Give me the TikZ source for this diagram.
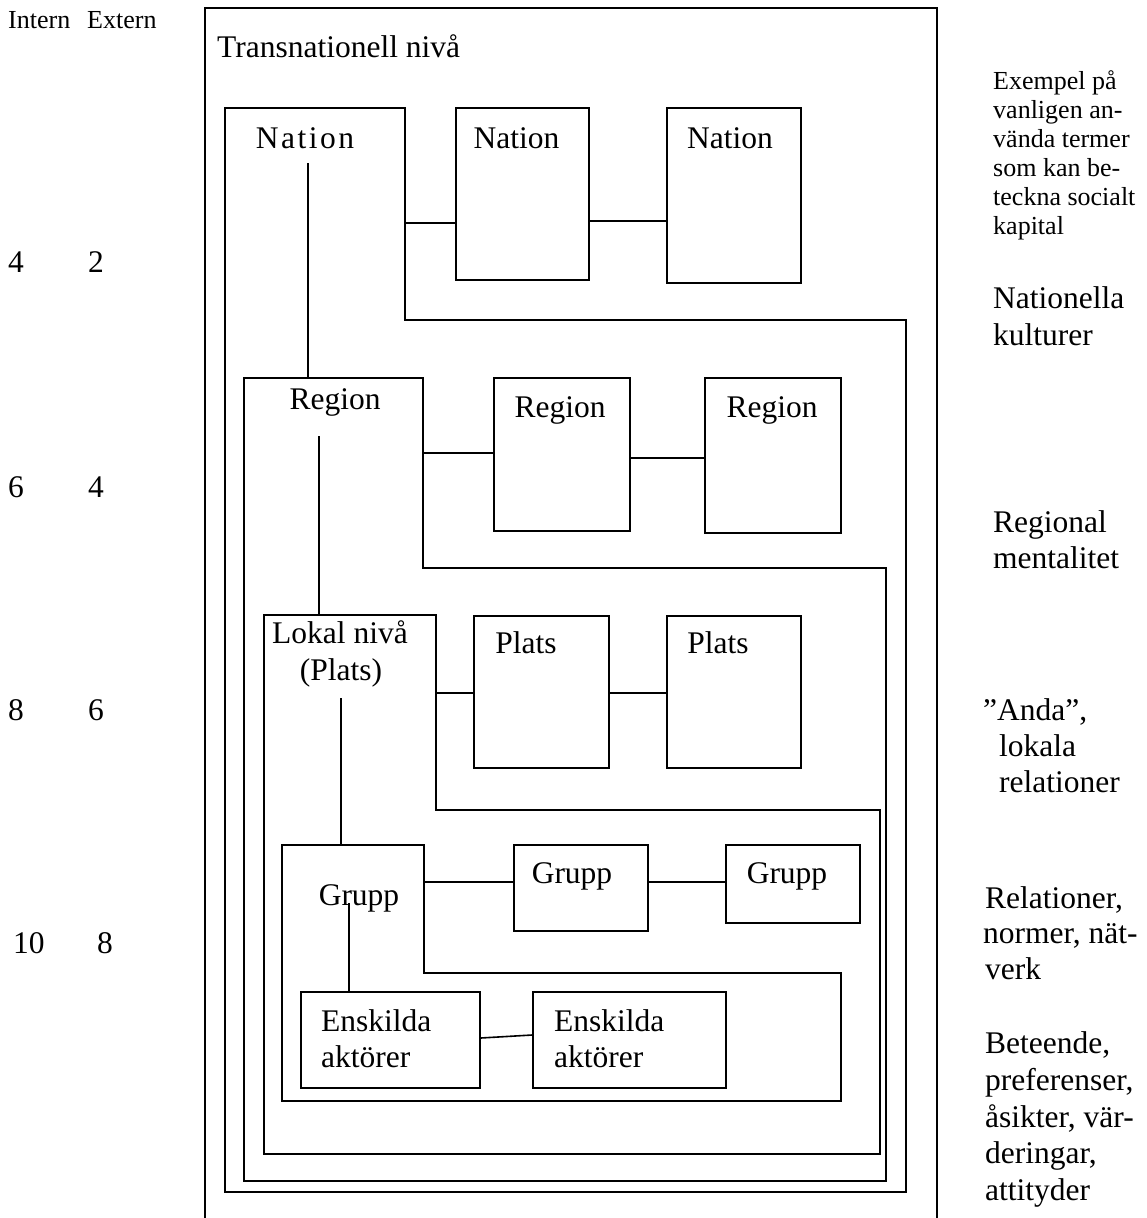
\documentclass[tikz,border=0pt]{standalone}
\usepackage{fontspec}
\setmainfont{Liberation Serif}
\newfontfamily\widefont[LetterSpace=8]{Liberation Serif}
\usepackage{tikz}
\usetikzlibrary{positioning,calc}

\tikzset{
    frame/.style={line width=1.6pt},
    box/.style={draw, line width=1.6pt, inner sep=0pt},
    link/.style={line width=1.6pt},
    stem/.style={line width=1.2pt},
    lbl/.style={inner sep=0pt, anchor=base, font=\fontsize{31.5}{36}\selectfont},
    side/.style={inner sep=0pt, anchor=base west, font=\fontsize{31.5}{36}\selectfont},
    small/.style={inner sep=0pt, anchor=base west, font=\fontsize{26}{29}\selectfont},
}

\begin{document}
\begin{tikzpicture}[x=1pt, y=-1pt]
    \useasboundingbox (0,0) rectangle (1147,1218);

    % Outer frame, open at the bottom
    \draw[frame] (205,1218) -- (205,8) -- (937,8) -- (937,1218);
    \node[side] (trans) at (217,57) {Transnationell nivå};

    % Nested levels: name / left / top / notch x / notch y / right / bottom
    \foreach \nm/\xl/\yt/\xn/\yn/\xr/\yb in {lvA/225/108/405/320/906/1192, lvB/244/378/423/568/886/1181, lvC/264/615/436/810/880/1154, lvD/282/845/424/973/841/1101} {
        \coordinate (\nm nw) at (\xl,\yt);
        \coordinate (\nm ne) at (\xn,\yt);
        \draw[frame] (\nm nw) -- (\nm ne) -- (\xn,\yn) -- (\xr,\yn) -- (\xr,\yb) -- (\xl,\yb) -- cycle;
    }

    % Nation level
    \node[lbl] (natA) at (305,148) {\widefont Nation};
    \node[box, minimum width=133pt, minimum height=172pt] (natB) at (522.5,194) {};
    \node[box, minimum width=134pt, minimum height=175pt] (natC) at (734,195.5) {};
    \node[lbl] (natBt) at (516.5,148) {Nation};
    \node[lbl] (natCt) at (730,148) {Nation};
    \coordinate (natAstem) at ([xshift=3pt,yshift=-15pt]natA.base);
    \coordinate (natBin) at ([yshift=-29pt]natB.west);
    \coordinate (natBout) at ([yshift=-27pt]natB.east);
    \draw[stem] (natAstem) -- (natAstem |- lvBnw);
    \draw[link] (natBin) -- (natBin -| lvAne);
    \draw[link] (natBout) -- (natBout -| natC.west);

    % Region level
    \node[lbl] (regA) at (335,409) {Region};
    \node[box, minimum width=136pt, minimum height=153pt] (regB) at (562,454.5) {};
    \node[box, minimum width=136pt, minimum height=155pt] (regC) at (773,455.5) {};
    \node[lbl] (regBt) at (560,417) {Region};
    \node[lbl] (regCt) at (772,417) {Region};
    \coordinate (regAstem) at ([xshift=-16pt,yshift=-27pt]regA.base);
    \coordinate (regBin) at ([yshift=1.5pt]regB.west);
    \coordinate (regBout) at ([yshift=-3.5pt]regB.east);
    \draw[stem] (regAstem) -- (regAstem |- lvCnw);
    \draw[link] (regBin) -- (regBin -| lvBne);
    \draw[link] (regBout) -- (regBout -| regC.west);

    % Local level
    \node[lbl] (lokA) at (340,643) {Lokal nivå};
    \node[lbl] (lokAp) at (341,680) {(Plats)};
    \node[box, minimum width=135pt, minimum height=152pt] (plB) at (541.5,692) {};
    \node[box, minimum width=134pt, minimum height=152pt] (plC) at (734,692) {};
    \node[lbl] (plBt) at (526,653) {Plats};
    \node[lbl] (plCt) at (718,653) {Plats};
    \coordinate (lokAstem) at ([yshift=-18pt]lokAp.base);
    \coordinate (plBin) at ([yshift=-1pt]plB.west);
    \coordinate (plBout) at ([yshift=-1pt]plB.east);
    \draw[stem] (lokAstem) -- (lokAstem |- lvDnw);
    \draw[link] (plBin) -- (plBin -| lvCne);
    \draw[link] (plBout) -- (plBout -| plC.west);

    % Group level
    \node[lbl] (grA) at (359,905) {Grupp};
    \node[box, minimum width=134pt, minimum height=86pt] (grB) at (581,888) {};
    \node[box, minimum width=134pt, minimum height=78pt] (grC) at (793,884) {};
    \node[lbl] (grBt) at (572,883) {Grupp};
    \node[lbl] (grCt) at (787,883) {Grupp};
    \coordinate (grBin) at ([yshift=6pt]grB.west);
    \coordinate (grBout) at ([yshift=6pt]grB.east);
    \draw[link] (grBin) -- (grBin -| lvDne);
    \draw[link] (grBout) -- (grBout -| grC.west);

    % Individual actors
    \node[box, minimum width=179pt, minimum height=96pt] (ensA) at (390.5,1040) {};
    \node[box, minimum width=193pt, minimum height=96pt] (ensB) at (629.5,1040) {};
    \foreach \bx/\xx in {ensA/321, ensB/554} {
        \node[side] (\bx t1) at (\xx,1031) {Enskilda};
        \node[side] (\bx t2) at (\xx,1067) {aktörer};
    }
    \coordinate (grAstem) at ([xshift=-10pt,yshift=2pt]grA.base);
    \draw[stem] (grAstem) -- (grAstem |- ensA.north);
    \coordinate (ensAout) at ([yshift=2pt]ensA.east);
    \coordinate (ensBin) at ([yshift=5pt]ensB.west);
    \draw[link] (ensAout) -- (ensBin);

    % Left column: internal / external counts
    \node[small] (intern) at (8,28) {Intern};
    \node[small] (extern) at (87,28) {Extern};
    \foreach \i/\e/\yy in {4/2/272, 6/4/497, 8/6/720} {
        \node[side] (in\i) at (8,\yy) {\i};
        \node[side] (ex\e) at (88,\yy) {\e};
    }
    \node[side] (in10) at (13,953) {10};
    \node[side] (ex8) at (97,953) {8};

    % Right column: terms
    \foreach \txt [count=\i] in {Exempel på, vanligen an-, vända termer, som kan be-, teckna socialt, kapital}
        \node[small] (term\i) at (993,{60+29*\i}) {\txt};
    \foreach \txt/\xx/\yy [count=\i] in {Nationella/993/308, kulturer/993/345, Regional/993/532, mentalitet/993/568,
        {”Anda”,}/983/720, lokala/999/756, relationer/999/792,
        {Relationer,}/985/908, {normer, nät-}/983/943, verk/985/979,
        {Beteende,}/985/1053, {preferenser,}/985/1090, {åsikter, vär-}/985/1127, {deringar,}/985/1163, attityder/985/1200}
        \node[side] (cap\i) at (\xx,\yy) {\txt};
\end{tikzpicture}
\end{document}
